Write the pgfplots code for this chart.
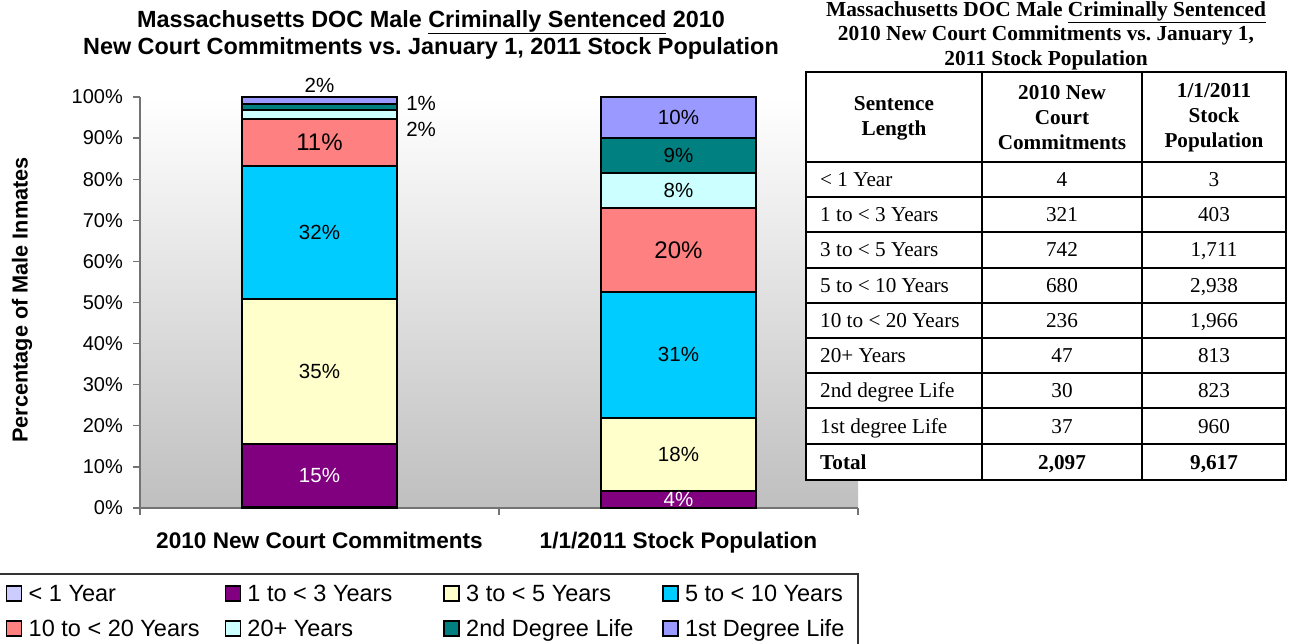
\documentclass[border=0pt]{standalone}
\usepackage{pgfplots}
\pgfplotsset{compat=1.18}
\usepackage{fontspec}
\setmainfont{Liberation Sans}
\newfontfamily\timesfont{Liberation Serif}
\definecolor{cA}{HTML}{CCCCFF}
\definecolor{cB}{HTML}{800080}
\definecolor{cC}{HTML}{FFFFCC}
\definecolor{cD}{HTML}{00CCFF}
\definecolor{cE}{HTML}{FF8080}
\definecolor{cF}{HTML}{CCFFFF}
\definecolor{cG}{HTML}{008080}
\definecolor{cH}{HTML}{9999FF}
\tikzset{lab/.style={font=\fontsize{20.5}{24}\selectfont, inner sep=0pt},
         labB/.style={font=\fontsize{24}{28}\selectfont, inner sep=0pt},
         tb/.style={font=\timesfont\fontsize{21.2}{25}\selectfont, inner sep=0pt},
         tbh/.style={font=\timesfont\bfseries\fontsize{21.2}{25}\selectfont, inner sep=0pt, align=center}}
\begin{document}
\begin{tikzpicture}[x=1pt,y=1pt]
\path[use as bounding box] (0,0) rectangle (1289,644);
\begin{axis}[
  at={(140pt,136pt)}, anchor=south west, scale only axis,
  width=718pt, height=411pt,
  xmin=-0.5, xmax=1.5, ymin=0, ymax=100,
  ybar stacked, bar width=155pt,
  clip=false,
  axis x line=bottom, axis y line=left,
  axis line style={-, draw=black!55, line width=1.3pt},
  every tick/.style={draw=black!55, line width=1.3pt},
  tick align=outside,
  major tick length=7pt,
  ytick={0,10,...,100},
  yticklabel={\pgfmathprintnumber{\tick}\%},
  /pgf/number format/assume math mode=true,
  yticklabel style={font=\fontsize{20}{24}\selectfont, anchor=east, inner sep=0pt, xshift=-10pt},
  xtick={-0.5,0.5,1.5},
  xticklabels={{},{},{}},
  extra x ticks={0,1},
  extra x tick labels={2010 New Court Commitments, 1/1/2011 Stock Population},
  extra x tick style={major tick length=0pt,
     xticklabel style={font=\bfseries\fontsize{22.6}{27}\selectfont, anchor=base, inner sep=0pt, yshift=-41pt}},
  axis background/.style={shade, top color=white, bottom color=black!25},
  legend columns=4,
  legend image code/.code={\draw[#1, line width=1.5pt] (0pt,-5pt) rectangle (15pt,10pt); \path[draw=none,fill=none] (0pt,0pt) -- (22pt,0pt);},
  legend style={at={(-0.18663,-0.18589)}, anchor=north west, draw=none, fill=none,
     inner sep=0pt, outer sep=0pt, row sep=12pt, column sep=0pt,
     nodes={inner sep=0pt, text height=17pt, text depth=6pt},
     font=\fontsize{23.5}{28}\selectfont},
  legend cell align=left,
]
\addplot[fill=cA, draw=black, line width=2pt] coordinates {(0,0.19) (1,0.03)};
\addlegendentry{\makebox[196pt][l]{< 1 Year}}
\addplot[fill=cB, draw=black, line width=2pt] coordinates {(0,15.31) (1,4.19)};
\addlegendentry{\makebox[196pt][l]{1 to < 3 Years}}
\addplot[fill=cC, draw=black, line width=2pt] coordinates {(0,35.38) (1,17.79)};
\addlegendentry{\makebox[196pt][l]{3 to < 5 Years}}
\addplot[fill=cD, draw=black, line width=2pt] coordinates {(0,32.43) (1,30.55)};
\addlegendentry{5 to < 10 Years}
\addplot[fill=cE, draw=black, line width=2pt] coordinates {(0,11.25) (1,20.44)};
\addlegendentry{\makebox[196pt][l]{10 to < 20 Years}}
\addplot[fill=cF, draw=black, line width=2pt] coordinates {(0,2.24) (1,8.45)};
\addlegendentry{\makebox[196pt][l]{20+ Years}}
\addplot[fill=cG, draw=black, line width=2pt] coordinates {(0,1.43) (1,8.56)};
\addlegendentry{\makebox[196pt][l]{2nd Degree Life}}
\addplot[fill=cH, draw=black, line width=2pt] coordinates {(0,1.76) (1,9.98)};
\addlegendentry{1st Degree Life}
% label anchors
\coordinate (a1) at (axis cs:0,7.85);
\coordinate (a2) at (axis cs:0,33.19);
\coordinate (a3) at (axis cs:0,67.1);
\coordinate (a4) at (axis cs:0,88.9);
\coordinate (a5) at (axis cs:0,102.9);
\coordinate (a6) at (axis cs:0.283,98.5);
\coordinate (a7) at (axis cs:0.283,92.1);
\coordinate (b1) at (axis cs:1,2.15);
\coordinate (b2) at (axis cs:1,13.1);
\coordinate (b3) at (axis cs:1,37.3);
\coordinate (b4) at (axis cs:1,62.7);
\coordinate (b5) at (axis cs:1,77.2);
\coordinate (b6) at (axis cs:1,85.7);
\coordinate (b7) at (axis cs:1,95.0);
\end{axis}
% bar labels
\node[lab, text=white] at (a1) {15\%};
\node[lab] at (a2) {35\%};
\node[lab] at (a3) {32\%};
\node[labB] at (a4) {11\%};
\node[lab] at (a5) {2\%};
\node[lab] at (a6) {1\%};
\node[lab] at (a7) {2\%};
\node[lab, text=white] at (b1) {4\%};
\node[lab] at (b2) {18\%};
\node[lab] at (b3) {31\%};
\node[labB] at (b4) {20\%};
\node[lab] at (b5) {8\%};
\node[lab] at (b6) {9\%};
\node[lab] at (b7) {10\%};
% legend frame
\draw[black!80, line width=1.3pt] (-2,-10) rectangle (858,70);
% title
\node[font=\bfseries\fontsize{23.4}{27}\selectfont, align=center, inner sep=0pt] at (431,609.5)
  {Massachusetts DOC Male \underline{Criminally Sentenced} 2010\\New Court Commitments vs.\ January 1, 2011 Stock Population};
% y label
\node[rotate=90, font=\bfseries\fontsize{21.7}{26}\selectfont, inner sep=0pt] at (22,344) {Percentage of Male Inmates};
% table
\fill[white] (806,164) rectangle (1286,572);
\begin{scope}[line width=1.5pt]
\draw (806,164) rectangle (1286,572);
\foreach \y in {482,447,412,376,341,306,271,236,200} \draw (806,\y) -- (1286,\y);
\draw (982,164) -- (982,572);
\draw (1142,164) -- (1142,572);
\end{scope}
\node[font=\timesfont\bfseries\fontsize{21.4}{24.5}\selectfont, align=center, inner sep=0pt] at (1046,608.5)
  {Massachusetts DOC Male \underline{Criminally Sentenced}\\2010 New Court Commitments vs.\ January 1,\\2011 Stock Population};
\node[tbh] at (894,526) {Sentence\\Length};
\node[tbh] at (1062,526) {2010 New\\Court\\Commitments};
\node[tbh] at (1214,526) {1/1/2011\\Stock\\Population};
% body
\node[tb, anchor=base west] at (820,457) {< 1 Year};
\node[tb, anchor=base] at (1062,457) {4};
\node[tb, anchor=base] at (1214,457) {3};
\node[tb, anchor=base west] at (820,422) {1 to < 3 Years};
\node[tb, anchor=base] at (1062,422) {321};
\node[tb, anchor=base] at (1214,422) {403};
\node[tb, anchor=base west] at (820,387) {3 to < 5 Years};
\node[tb, anchor=base] at (1062,387) {742};
\node[tb, anchor=base] at (1214,387) {1,711};
\node[tb, anchor=base west] at (820,351) {5 to < 10 Years};
\node[tb, anchor=base] at (1062,351) {680};
\node[tb, anchor=base] at (1214,351) {2,938};
\node[tb, anchor=base west] at (820,316) {10 to < 20 Years};
\node[tb, anchor=base] at (1062,316) {236};
\node[tb, anchor=base] at (1214,316) {1,966};
\node[tb, anchor=base west] at (820,281) {20+ Years};
\node[tb, anchor=base] at (1062,281) {47};
\node[tb, anchor=base] at (1214,281) {813};
\node[tb, anchor=base west] at (820,246) {2nd degree Life};
\node[tb, anchor=base] at (1062,246) {30};
\node[tb, anchor=base] at (1214,246) {823};
\node[tb, anchor=base west] at (820,210) {1st degree Life};
\node[tb, anchor=base] at (1062,210) {37};
\node[tb, anchor=base] at (1214,210) {960};
\node[tb, anchor=base west, font=\timesfont\bfseries\fontsize{21.2}{25}\selectfont] at (820,174) {Total};
\node[tb, anchor=base, font=\timesfont\bfseries\fontsize{21.2}{25}\selectfont] at (1062,174) {2,097};
\node[tb, anchor=base, font=\timesfont\bfseries\fontsize{21.2}{25}\selectfont] at (1214,174) {9,617};
\end{tikzpicture}
\end{document}
